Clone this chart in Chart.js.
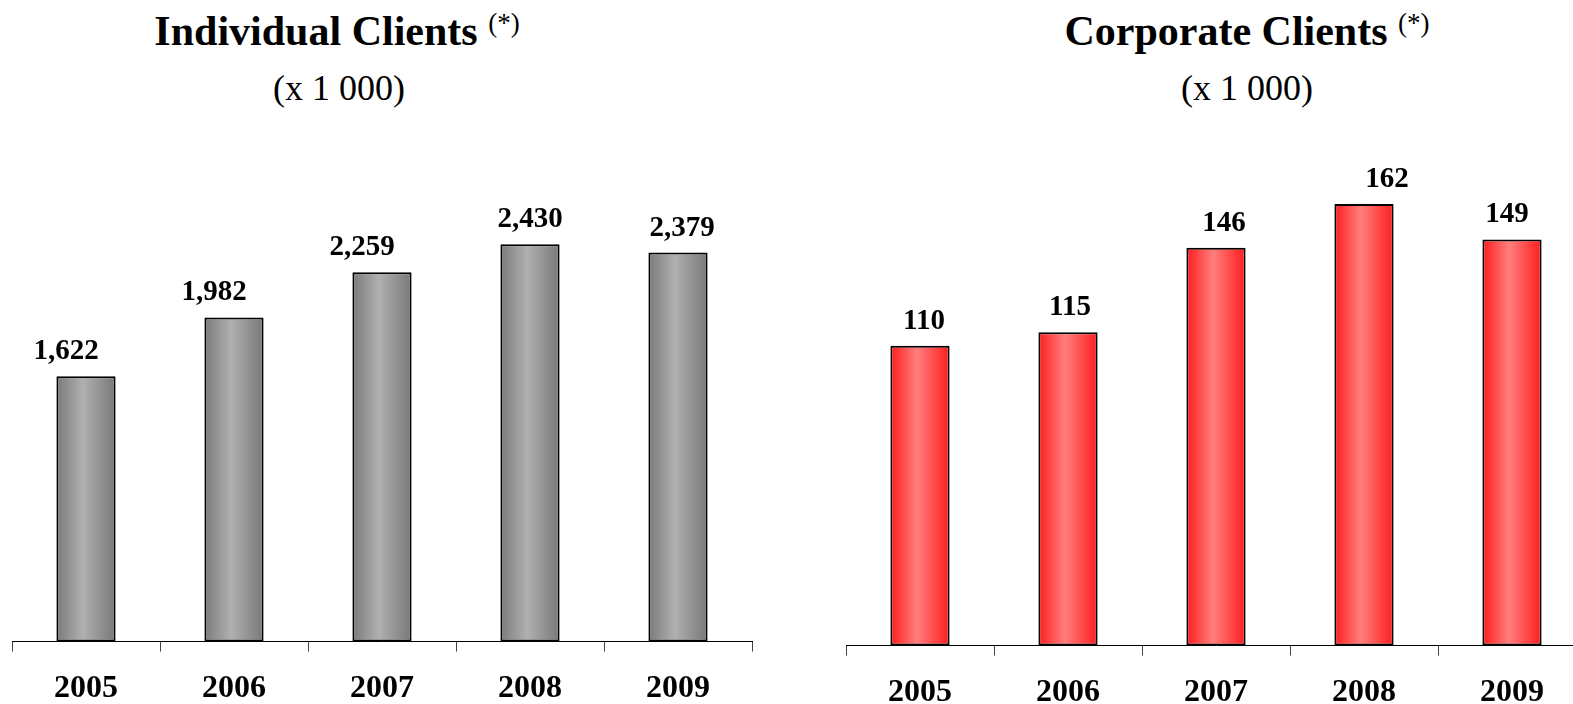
<!DOCTYPE html>
<html>
<head>
<meta charset="utf-8">
<script src="https://cdn.jsdelivr.net/npm/chart.js@4"></script>
<style>
  html, body { margin: 0; padding: 0; background: #fff; width: 1573px; height: 704px; overflow: hidden; position: relative; }
  .t { position: absolute; font-family: "Liberation Serif", "Times New Roman", serif; color: #000; text-align: center; white-space: nowrap; }
  .main { font-weight: bold; font-size: 42px; line-height: 42px; top: 10px; }
  .main sup { font-weight: normal; font-size: 27px; vertical-align: baseline; position: relative; top: -13px; }
  .sub { font-size: 36px; line-height: 36px; top: 70px; }
  .box { position: absolute; top: 0; }
</style>
</head>
<body>
<div class="t main" style="left:37px;width:600px;">Individual Clients <sup>(*)</sup></div>
<div class="t sub" style="left:39px;width:600px;">(x 1 000)</div>
<div class="t main" style="left:947px;width:600px;">Corporate Clients <sup>(*)</sup></div>
<div class="t sub" style="left:947px;width:600px;">(x 1 000)</div>

<div class="box" style="left:0px;width:770px;height:726px;"><canvas id="c1"></canvas></div>
<div class="box" style="left:834px;width:770px;height:730px;"><canvas id="c2"></canvas></div>

<script>
const years = ["2005", "2006", "2007", "2008", "2009"];
const individualClients = [1622, 1982, 2259, 2430, 2379];
const corporateClients = [110, 115, 146, 162, 149];

function fmt(v) { return v.toLocaleString("en-US"); }

const valueLabels = {
  id: "valueLabels",
  afterDatasetsDraw(chart, args, opts) {
    const ctx = chart.ctx;
    const meta = chart.getDatasetMeta(0);
    const ds = chart.data.datasets[0];
    ctx.save();
    ctx.font = "bold 29px 'Liberation Serif', 'Times New Roman', serif";
    ctx.fillStyle = "#000";
    ctx.textAlign = "center";
    ctx.textBaseline = "alphabetic";
    meta.data.forEach((bar, i) => {
      const dx = (opts.dx && opts.dx[i]) || 0;
      ctx.fillText(fmt(ds.data[i]), bar.x + dx, bar.y - 17);
    });
    ctx.restore();
  }
};

function gradientFor(dark, light, darkR) {
  return function (context) {
    const chart = context.chart;
    const area = chart.chartArea;
    const xs = chart.scales.x;
    if (!area || !xs || context.dataIndex === undefined) return dark;
    const cx = xs.getPixelForValue(context.dataIndex);
    const w = (area.right - area.left) / years.length * 0.4;
    const g = chart.ctx.createLinearGradient(cx - w / 2, 0, cx + w / 2, 0);
    g.addColorStop(0, dark);
    g.addColorStop(0.45, light);
    g.addColorStop(1, darkR);
    return g;
  };
}

function makeChart(id, data, yMax, padTop, colors, dx) {
  return new Chart(document.getElementById(id), {
    type: "bar",
    data: {
      labels: years,
      datasets: [{
        data: data,
        backgroundColor: gradientFor(colors[0], colors[1], colors[2]),
        borderColor: "#000",
        borderWidth: 2,
        borderSkipped: false,
        barPercentage: 0.4,
        categoryPercentage: 1.0
      }]
    },
    options: {
      responsive: true,
      maintainAspectRatio: false,
      animation: false,
      events: [],
      layout: { padding: { top: padTop, left: 12, right: 18, bottom: 0 } },
      plugins: {
        legend: { display: false },
        title: { display: false },
        tooltip: { enabled: false },
        valueLabels: { dx: dx }
      },
      scales: {
        x: {
          offset: true,
          grid: { display: true, offset: true, drawOnChartArea: false, drawTicks: true, tickLength: 10, color: "#444", lineWidth: 1 },
          border: { display: true, color: "#000", width: 1 },
          ticks: {
            color: "#000",
            padding: 18,
            font: { family: "'Liberation Serif', 'Times New Roman', serif", size: 32, weight: "bold" }
          }
        },
        y: {
          display: false,
          min: 0,
          max: yMax
        }
      }
    },
    plugins: [valueLabels]
  });
}

makeChart("c1", individualClients, 3000, 151, ["#7a7a7a", "#b0b0b0", "#787878"], [-20, -20, -20, 0, 4]);
makeChart("c2", corporateClients, 180, 155, ["#ff1c1c", "#ff7e7e", "#ff1c1c"], [4, 2, 8, 23, -5]);
</script>
</body>
</html>
